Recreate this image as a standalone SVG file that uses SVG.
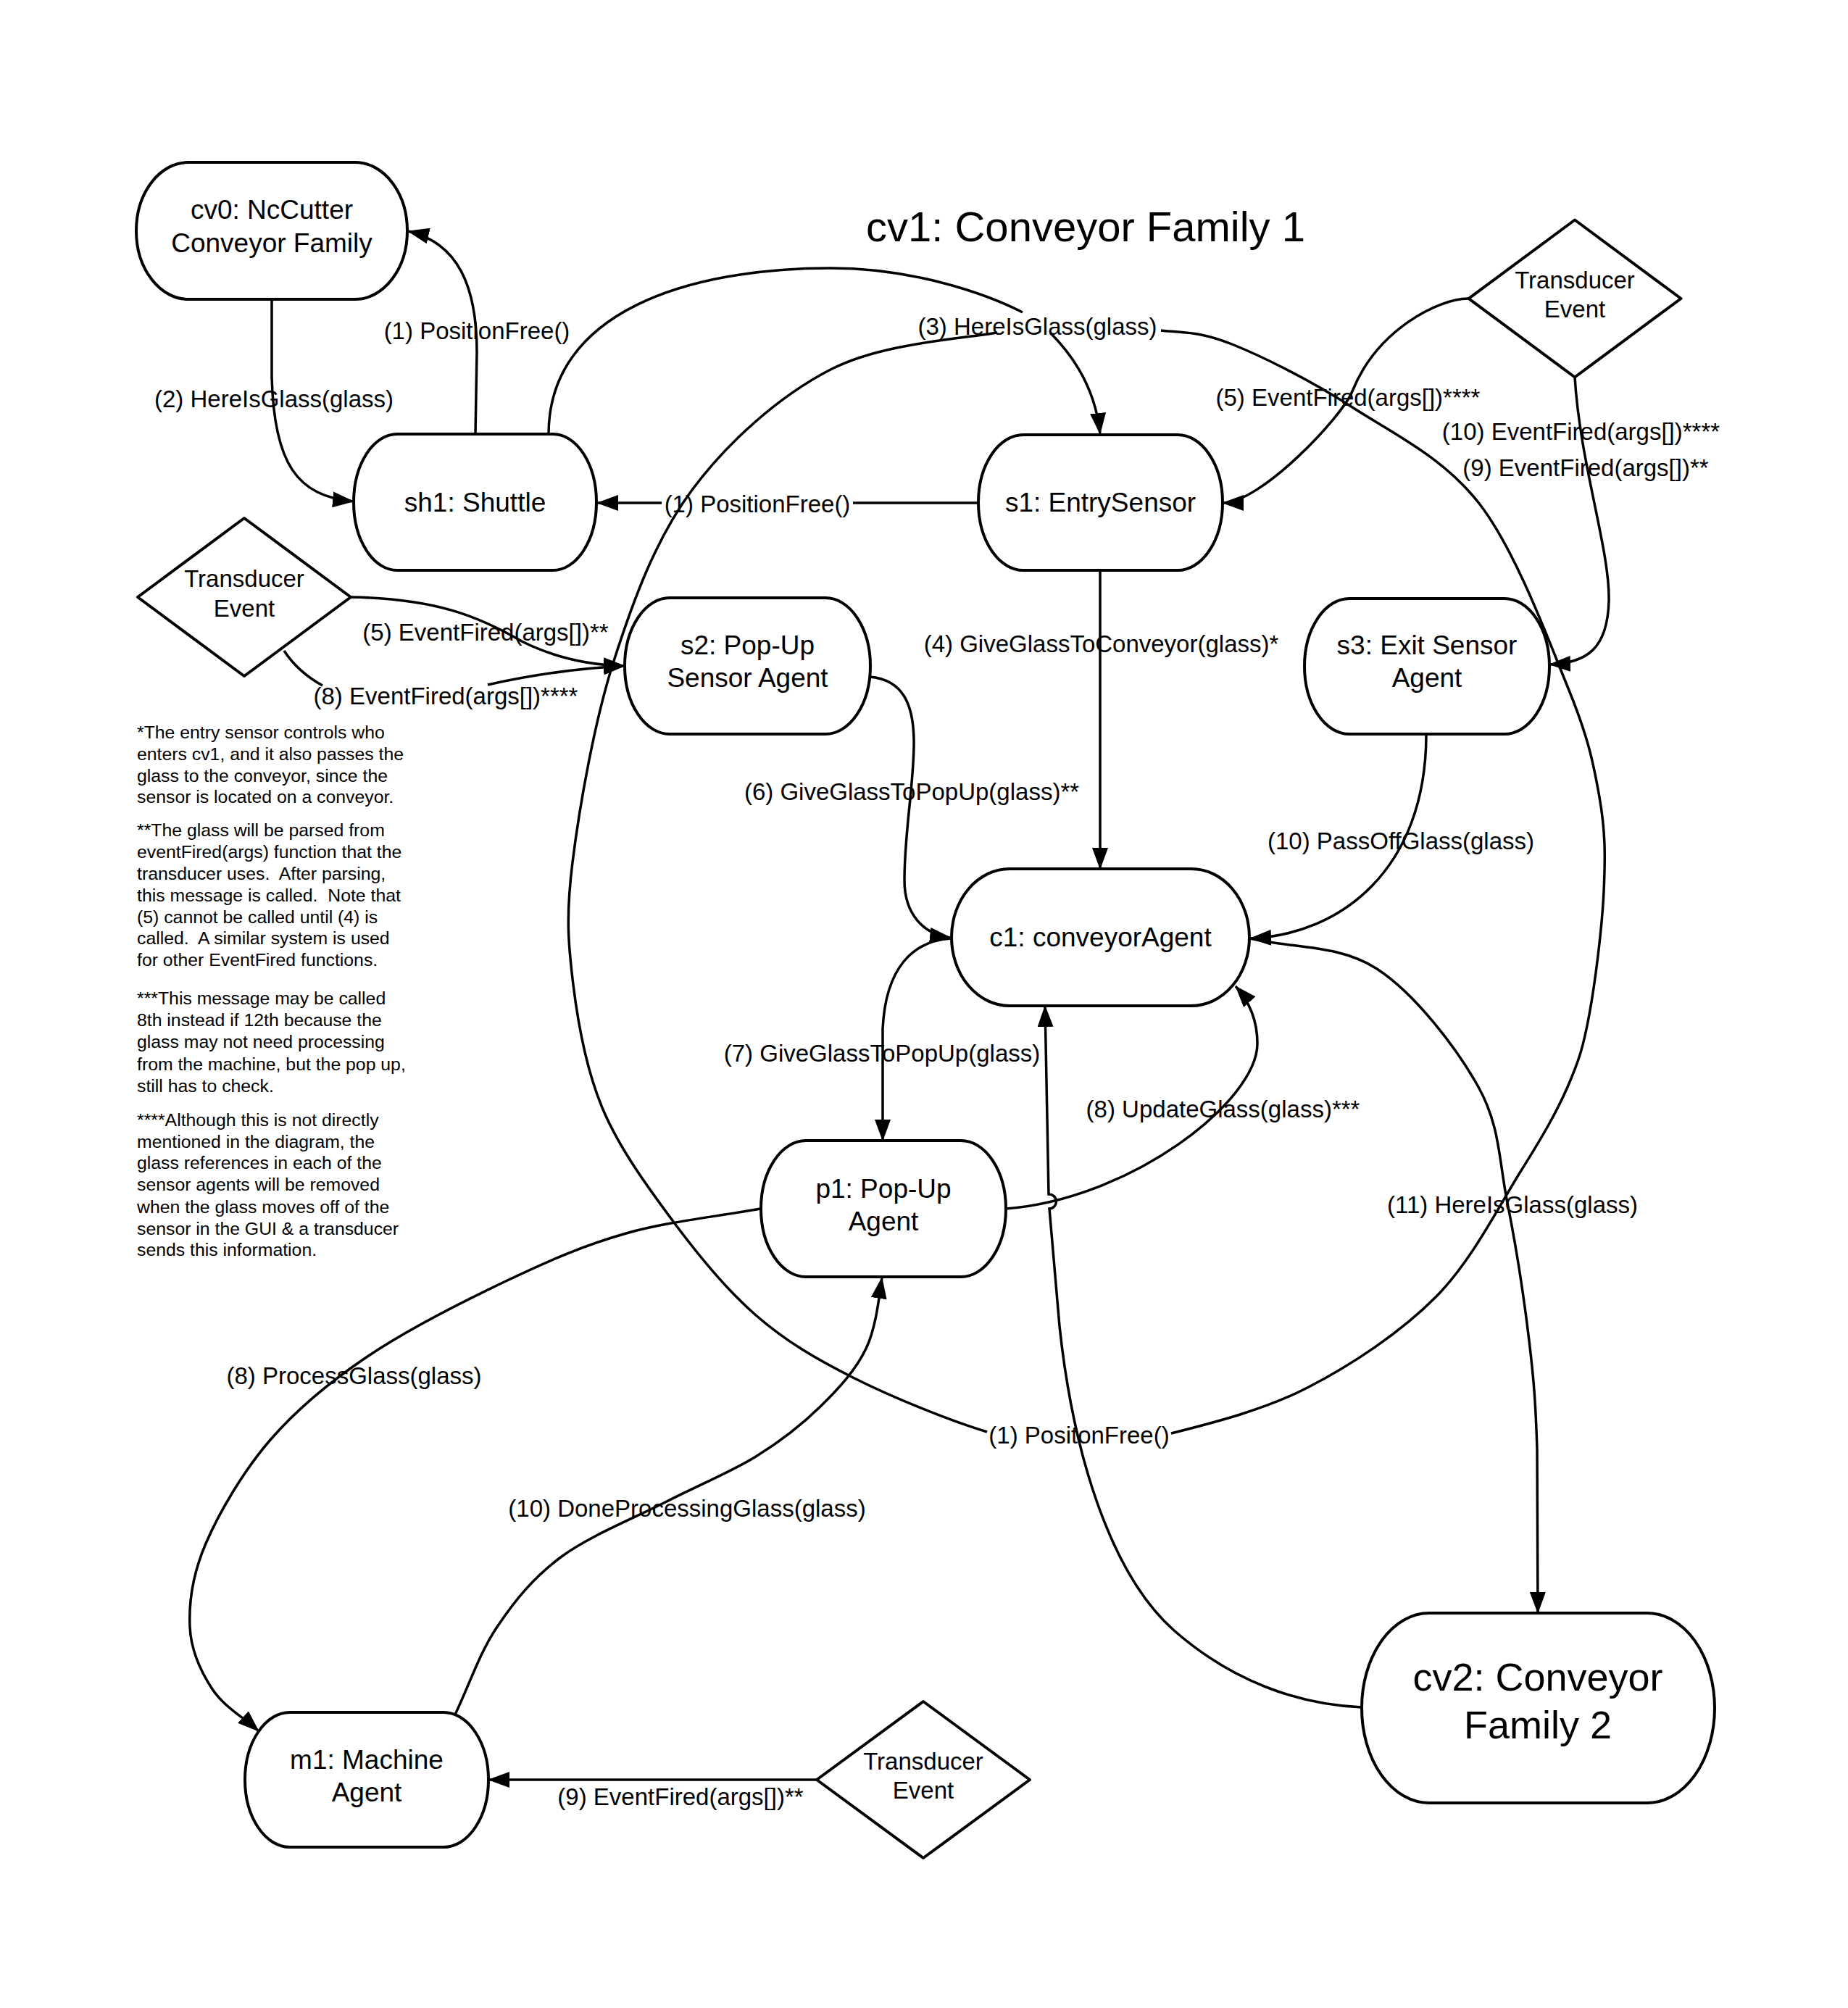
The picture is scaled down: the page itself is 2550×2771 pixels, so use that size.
<svg xmlns="http://www.w3.org/2000/svg" width="2550" height="2771" viewBox="0 0 2550 2771">
<defs>
<style>
.node{fill:#fff;stroke:#000;stroke-width:4}
.dia{fill:#fff;stroke:#000;stroke-width:4;stroke-linejoin:round}
.conn{fill:none;stroke:#000;stroke-width:3.5}
text{font-family:"Liberation Sans",Arial,sans-serif;fill:#000}
.nt{font-size:37px;text-anchor:middle}
.lb{font-size:33px;text-anchor:middle}
.note{font-size:24.8px;text-anchor:start}
</style>
<marker id="arr" markerUnits="userSpaceOnUse" markerWidth="30" markerHeight="22" viewBox="0 0 30 22" refX="29" refY="11" orient="auto">
<path d="M0,0 L30,11 L0,22 Z" fill="#000"/>
</marker>
</defs>
<rect width="2550" height="2771" fill="#fff"/>
<text x="1498" y="333" style="font-size:58px;text-anchor:middle">cv1: Conveyor Family 1</text>

<g id="nodes">
<g id="cv0"><rect class="node" x="188" y="224" width="374" height="189" rx="72" ry="94.5"/><text class="nt" x="375" y="302">cv0: NcCutter</text><text class="nt" x="375" y="348">Conveyor Family</text></g>
<g id="sh1"><rect class="node" x="488" y="599" width="335" height="188" rx="60" ry="94"/><text class="nt" x="655.5" y="706">sh1: Shuttle</text></g>
<g id="s1"><rect class="node" x="1350" y="600" width="337" height="187" rx="62" ry="93.5"/><text class="nt" x="1518.5" y="706">s1: EntrySensor</text></g>
<g id="s2"><rect class="node" x="862" y="825" width="339" height="188" rx="62" ry="94"/><text class="nt" x="1031.5" y="903">s2: Pop-Up</text><text class="nt" x="1031.5" y="948">Sensor Agent</text></g>
<g id="s3"><rect class="node" x="1800" y="826" width="338" height="187" rx="62" ry="93.5"/><text class="nt" x="1969" y="903">s3: Exit Sensor</text><text class="nt" x="1969" y="948">Agent</text></g>
<g id="c1"><rect class="node" x="1313" y="1199" width="411" height="189" rx="80" ry="94.5"/><text class="nt" x="1518.5" y="1306">c1: conveyorAgent</text></g>
<g id="p1"><rect class="node" x="1050" y="1574" width="338" height="188" rx="62" ry="94"/><text class="nt" x="1219" y="1653">p1: Pop-Up</text><text class="nt" x="1219" y="1698">Agent</text></g>
<g id="m1"><rect class="node" x="338" y="2363" width="336" height="186" rx="62" ry="93"/><text class="nt" x="506" y="2441">m1: Machine</text><text class="nt" x="506" y="2486">Agent</text></g>
<g id="cv2"><rect class="node" x="1879" y="2226" width="487" height="262" rx="93" ry="131"/><text x="2122" y="2333" style="font-size:54px;text-anchor:middle">cv2: Conveyor</text><text x="2122" y="2399" style="font-size:54px;text-anchor:middle">Family 2</text></g>
<g id="tr1"><polygon class="dia" points="2173,303.5 2319.5,412 2173,520.5 2026.5,412"/><text class="lb" x="2173" y="397.5">Transducer</text><text class="lb" x="2173" y="438">Event</text></g>
<g id="tr2"><polygon class="dia" points="337,715 484,824 337,933 190,824"/><text class="lb" x="337" y="810">Transducer</text><text class="lb" x="337" y="850.5">Event</text></g>
<g id="tr3"><polygon class="dia" points="1274,2348 1421,2456 1274,2564 1127,2456"/><text class="lb" x="1274" y="2441.5">Transducer</text><text class="lb" x="1274" y="2482">Event</text></g>
</g>

<g id="connectors">
<path class="conn" marker-end="url(#arr)" d="M375,413 L375,520 C378,640 410,685 488,692"/>
<path class="conn" marker-end="url(#arr)" d="M656,599 L658,486 C658,395 632,335 563,319"/>
<path class="conn" marker-end="url(#arr)" d="M757,599 C757,430 950,370 1146,370 C1260,370 1360,405 1411,431 M1449,459 C1485,495 1512,540 1518,599"/>
<path class="conn" marker-end="url(#arr)" d="M1349,694 L1177,694 M913,694 L824,694"/>
<path class="conn" marker-end="url(#arr)" d="M1518,787 L1518,1199"/>
<path class="conn" marker-end="url(#arr)" d="M2026,412 C1985,412 1900,455 1866,540 C1852,575 1740,694 1687,694"/>
<path class="conn" marker-end="url(#arr)" d="M2173,520 C2180,640 2222,760 2220,830 C2218,895 2190,915 2138,917"/>
<path class="conn" marker-end="url(#arr)" d="M484,824 C600,826 660,850 720,885 C770,910 820,918 862,919"/>
<path class="conn" marker-end="url(#arr)" d="M392,898 C405,918 425,935 445,946 M673,945 C740,930 800,922 862,919"/>
<path class="conn" marker-end="url(#arr)" d="M1200,934 C1245,938 1262,970 1261,1030 C1260,1090 1248,1150 1248,1215 C1248,1262 1275,1290 1312,1294"/>
<path class="conn" marker-end="url(#arr)" d="M1968,1013 C1968,1200 1850,1290 1725,1295"/>
<path class="conn" marker-end="url(#arr)" d="M1725,1295 C1783.3,1309 1847.5,1302.8 1900,1337 C1952.5,1371.2 2010,1446.2 2040,1500 C2070,1553.8 2068.3,1601.7 2080,1660 C2091.7,1718.3 2103.2,1793.3 2110,1850 C2116.8,1906.7 2119,1937.5 2121,2000 L2122,2226"/>
<path class="conn" marker-end="url(#arr)" d="M1313,1295 C1260,1298 1222,1335 1218,1420 L1218,1574"/>
<path class="conn" marker-end="url(#arr)" d="M1388,1668 C1560,1655 1735,1520 1735,1440 C1735,1405 1722,1380 1705,1361"/>
<path class="conn" marker-end="url(#arr)" d="M1879,2356 C1790,2352 1700,2320 1620,2250 C1530,2170 1480,2000 1462,1830 L1448,1668 A10,10 0 0 0 1447,1648 L1442,1388"/>
<path class="conn" marker-end="url(#arr)" d="M1049,1668 C987.3,1679.3 922.2,1685.5 864,1702 C805.8,1718.5 759.5,1738.7 700,1767 C640.5,1795.3 561.5,1835.3 507,1872 C452.5,1908.7 410.2,1944 373,1987 C335.8,2030 302.5,2087 284,2130 C265.5,2173 260.5,2211.5 262,2245 C263.5,2278.5 277.2,2307 293,2331 C308.8,2355 335.7,2369.7 357,2389"/>
<path class="conn" marker-end="url(#arr)" d="M628,2366 C647.3,2325.7 661.5,2281.3 686,2245 C710.5,2208.7 736,2176.8 775,2148 C814,2119.2 875.3,2095 920,2072 C964.7,2049 1007.7,2031.8 1043,2010 C1078.3,1988.2 1106.7,1965.8 1132,1941 C1157.3,1916.2 1180.8,1890.7 1195,1861 C1209.2,1831.3 1213.3,1787.7 1217,1763"/>
<path class="conn" marker-end="url(#arr)" d="M1127,2456 L674,2456"/>
<path class="conn" d="M1376,459 C1318.7,468.7 1216.2,473.8 1146,510 C1075.8,546.2 1004.8,609 955,676 C905.2,743 874.5,826.3 847,912 C819.5,997.7 799.3,1115.5 790,1190 C780.7,1264.5 784,1302.2 791,1359 C798,1415.8 808.8,1476.3 832,1531 C855.2,1585.7 894.8,1639.7 930,1687 C965.2,1734.3 1001.8,1779.3 1043,1815 C1084.2,1850.7 1123.8,1874.2 1177,1901 C1230.2,1927.8 1309.8,1960.3 1362,1976"/>
<path class="conn" d="M1602,456 C1637,459.8 1656,457.3 1700,475 C1744,492.7 1809,525.2 1866,562 C1923,598.8 1992.3,631.3 2042,696 C2091.7,760.7 2136.5,882.7 2164,950 C2191.5,1017.3 2198.8,1053.3 2207,1100 C2215.2,1146.7 2215.3,1180 2213,1230 C2210.7,1280 2201.3,1355 2193,1400 C2184.7,1445 2178.8,1463.8 2163,1500 C2147.2,1536.2 2128.2,1568.8 2098,1617 C2067.8,1665.2 2031,1739.3 1982,1789 C1933,1838.7 1865,1883.5 1804,1915 C1743,1946.5 1668.3,1964.7 1616,1978"/>
</g>

<g id="labels">
<text class="lb" x="658" y="468">(1) PositionFree()</text>
<text class="lb" x="378" y="562">(2) HereIsGlass(glass)</text>
<text class="lb" x="1431.5" y="462">(3) HereIsGlass(glass)</text>
<text class="lb" x="1045" y="707">(1) PositionFree()</text>
<text class="lb" x="1860" y="560">(5) EventFired(args[])****</text>
<text class="lb" x="2181.5" y="607">(10) EventFired(args[])****</text>
<text class="lb" x="2188" y="657">(9) EventFired(args[])**</text>
<text class="lb" x="1519.5" y="900">(4) GiveGlassToConveyor(glass)*</text>
<text class="lb" x="670" y="884">(5) EventFired(args[])**</text>
<text class="lb" x="615" y="972">(8) EventFired(args[])****</text>
<text class="lb" x="1258" y="1103.5">(6) GiveGlassToPopUp(glass)**</text>
<text class="lb" x="1933" y="1172">(10) PassOffGlass(glass)</text>
<text class="lb" x="1217" y="1465">(7) GiveGlassToPopUp(glass)</text>
<text class="lb" x="1687.5" y="1542">(8) UpdateGlass(glass)***</text>
<text class="lb" x="2087" y="1674">(11) HereIsGlass(glass)</text>
<text class="lb" x="1489" y="1992">(1) PositonFree()</text>
<text class="lb" x="488.5" y="1909.5">(8) ProcessGlass(glass)</text>
<text class="lb" x="948" y="2093">(10) DoneProcessingGlass(glass)</text>
<text class="lb" x="939" y="2491">(9) EventFired(args[])**</text>
</g>

<g id="notes">
<text class="note" xml:space="preserve"><tspan x="189" y="1019">*The entry sensor controls who</tspan><tspan x="189" y="1049">enters cv1, and it also passes the</tspan><tspan x="189" y="1079">glass to the conveyor, since the</tspan><tspan x="189" y="1108">sensor is located on a conveyor.</tspan></text>
<text class="note" xml:space="preserve"><tspan x="189" y="1154">**The glass will be parsed from</tspan><tspan x="189" y="1184">eventFired(args) function that the</tspan><tspan x="189" y="1214">transducer uses.  After parsing,</tspan><tspan x="189" y="1244">this message is called.  Note that</tspan><tspan x="189" y="1274">(5) cannot be called until (4) is</tspan><tspan x="189" y="1303">called.  A similar system is used</tspan><tspan x="189" y="1333">for other EventFired functions.</tspan></text>
<text class="note" xml:space="preserve"><tspan x="189" y="1386">***This message may be called</tspan><tspan x="189" y="1416">8th instead if 12th because the</tspan><tspan x="189" y="1446">glass may not need processing</tspan><tspan x="189" y="1477">from the machine, but the pop up,</tspan><tspan x="189" y="1507">still has to check.</tspan></text>
<text class="note" xml:space="preserve"><tspan x="189" y="1554">****Although this is not directly</tspan><tspan x="189" y="1584">mentioned in the diagram, the</tspan><tspan x="189" y="1613">glass references in each of the</tspan><tspan x="189" y="1643">sensor agents will be removed</tspan><tspan x="189" y="1674">when the glass moves off of the</tspan><tspan x="189" y="1704">sensor in the GUI &amp; a transducer</tspan><tspan x="189" y="1733">sends this information.</tspan></text>
</g>
</svg>
